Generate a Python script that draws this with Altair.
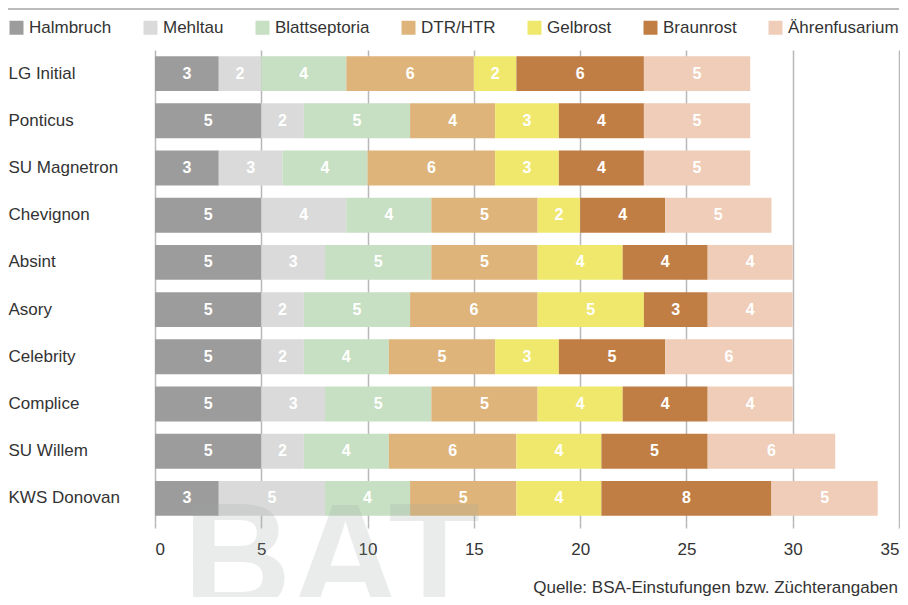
import altair as alt
import pandas as pd

varieties = ["LG Initial", "Ponticus", "SU Magnetron", "Chevignon", "Absint",
             "Asory", "Celebrity", "Complice", "SU Willem", "KWS Donovan"]
diseases = ["Halmbruch", "Mehltau", "Blattseptoria", "DTR/HTR", "Gelbrost",
            "Braunrost", "Ährenfusarium"]
colors = ["#9c9c9c", "#d9dad9", "#c7dfc3", "#deb47b", "#efe86d", "#c17e44", "#efcdb9"]

halmbruch     = [3, 5, 3, 5, 5, 5, 5, 5, 5, 3]
mehltau       = [2, 2, 3, 4, 3, 2, 2, 3, 2, 5]
blattseptoria = [4, 5, 4, 4, 5, 5, 4, 5, 4, 4]
dtr_htr       = [6, 4, 6, 5, 5, 6, 5, 5, 6, 5]
gelbrost      = [2, 3, 3, 2, 4, 5, 3, 4, 4, 4]
braunrost     = [6, 4, 4, 4, 4, 3, 5, 4, 5, 8]
aehrenfus     = [5, 5, 5, 5, 4, 4, 6, 4, 6, 5]

x_ticks = [0, 5, 10, 15, 20, 25, 30, 35]
source_text = "Quelle: BSA-Einstufungen bzw. Züchterangaben"
watermark = "BAT"

series = [halmbruch, mehltau, blattseptoria, dtr_htr, gelbrost, braunrost, aehrenfus]
rows = []
for di, (d, vals) in enumerate(zip(diseases, series)):
    for v, val in zip(varieties, vals):
        rows.append({"Sorte": v, "Krankheit": d, "Wert": val, "ord": di})
df = pd.DataFrame(rows)

FONT = "Liberation Sans"
W, H = 744, 472

base = alt.Chart(df).transform_stack(
    stack="Wert", groupby=["Sorte"], as_=["x0", "x1"],
    sort=[alt.SortField("ord", order="ascending")]
).transform_calculate(mid="(datum.x0 + datum.x1) / 2")

yenc = alt.Y("Sorte:N", sort=varieties, title=None,
             scale=alt.Scale(paddingInner=0.26, paddingOuter=0.13),
             axis=alt.Axis(domain=False, ticks=False, grid=False,
                           labelAlign="left", labelPadding=147,
                           labelFont=FONT, labelFontSize=17, labelColor="#333333"))

bars = base.mark_bar().encode(
    x=alt.X("x0:Q", title=None,
            scale=alt.Scale(domain=[0, 35], nice=False),
            axis=alt.Axis(values=x_ticks, domain=False, ticks=True, tickSize=6,
                          tickColor="#b8b8b8", tickWidth=1.5,
                          grid=True, gridColor="#b8b8b8", gridWidth=1.5,
                          labelFlush=True, labelPadding=13,
                          labelFont=FONT, labelFontSize=17, labelColor="#333333")),
    x2="x1:Q",
    y=yenc,
    color=alt.Color("Krankheit:N",
                    scale=alt.Scale(domain=diseases, range=colors),
                    sort=diseases,
                    legend=alt.Legend(title=None, orient="none", direction="horizontal",
                                      legendX=-147, legendY=-31,
                                      symbolType="square", symbolSize=196,
                                      symbolStrokeWidth=0, symbolOpacity=1,
                                      labelFont=FONT, labelFontSize=17,
                                      labelColor="#333333", labelOffset=4,
                                      columnPadding=30)),
)

labels = base.mark_text(color="white", font=FONT, fontSize=16,
                        fontWeight="bold", baseline="middle").encode(
    x=alt.X("mid:Q"),
    y=alt.Y("Sorte:N", sort=varieties),
    text=alt.Text("Wert:Q"),
)

one = pd.DataFrame({"t": [source_text], "w": [watermark]})

src = alt.Chart(one).mark_text(align="right", baseline="middle", font=FONT,
                               fontSize=17, color="#333333").encode(
    x=alt.value(743), y=alt.value(538), text="t:N")

wm = alt.Chart(one).mark_text(align="left", baseline="alphabetic", font=FONT,
                              fontSize=150, fontWeight="bold",
                              color="#9aa69f", opacity=0.2).encode(
    x=alt.value(28), y=alt.value(558), text="w:N")

top_rule = alt.Chart(one).mark_rule(color="#bbbbbb", strokeWidth=2).encode(
    x=alt.value(-147), x2=alt.value(744), y=alt.value(-41))

chart = alt.layer(bars, labels, src, wm, top_rule).properties(
    width=W, height=H,
    autosize=alt.AutoSizeParams(type="none"),
    padding={"left": 147, "top": 42, "right": 1, "bottom": 75},
).configure_view(stroke=None)

chart.save("out.html", embed_options={"renderer": "svg", "actions": False})
